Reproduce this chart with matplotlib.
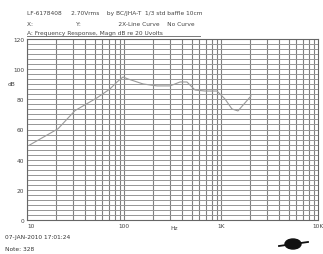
import numpy as np
import matplotlib
matplotlib.use('Agg')
import matplotlib.pyplot as plt
from matplotlib.patches import Ellipse

# curva de resposta
freq = [10.5, 20.9, 31.2, 52.7, 71.7, 84.7, 97.7, 110, 157, 219, 298, 378,
        446, 539, 684, 909, 1100, 1298, 1496, 1726, 2037]
magn = [49.5, 60.5, 72.5, 81.0, 86.9, 91.5, 94.8, 93.5, 90.2, 88.9, 88.9, 91.5,
        91.5, 86.2, 85.5, 85.5, 80.2, 73.6, 72.3, 76.9, 82.2]

ytick_vals = [0, 20, 40, 60, 80, 100, 120]
xtick_vals = [10, 100, 1000, 10000]
xtick_labels = ['10', '100', '1K', '10K']

header1 = 'LF-6178408     2.70Vrms    by BC/JHA-T  1/3 std baffle 10cm'
header2 = 'X:                       Y:                    2X-Line Curve    No Curve'
header3 = 'A: Frequency Response, Magn dB re 20 Uvolts'
date_txt = '07-JAN-2010 17:01:24'
note_txt = 'Note: 328'

fs = 4.2
W, H = 323, 255
fig = plt.figure(figsize=(W / 100, H / 100), dpi=100)
ax = fig.add_axes([27 / W, 1 - 221 / H, (318 - 27) / W, (221 - 40) / H])

ax.set_xscale('log')
ax.set_xlim(10, 10000)
ax.set_ylim(0, 120)

# grade
for dec in [10, 100, 1000]:
    for k in range(1, 10):
        ax.axvline(dec * k, color='#808080', lw=0.8, zorder=1)
for v in np.arange(0, 120.01, 20 / 6):
    ax.axhline(v, color='#959595', lw=0.7, zorder=1)

ax.plot(freq, magn, color='#9a9a9a', lw=0.8, zorder=3)

ax.set_yticks(ytick_vals)
ax.set_yticklabels([str(v) for v in ytick_vals])
ax.set_xticks(xtick_vals)
ax.set_xticklabels(xtick_labels)
ax.minorticks_off()
ax.tick_params(length=0, labelsize=fs, colors='#444444', pad=2)
ax.get_xticklabels()[0].set_ha('left')
for sp in ax.spines.values():
    sp.set_color('#666666')
    sp.set_linewidth(0.8)

fig.text(12 / W, 1 - 85 / H, 'dB', fontsize=fs, color='#444444', va='center', ha='center')
fig.text(174 / W, 1 - 228 / H, 'Hz', fontsize=fs, color='#444444', va='center', ha='center')

fig.text(27 / W, 1 - 14 / H, header1, fontsize=fs, color='#444444', va='center')
fig.text(27 / W, 1 - 24 / H, header2, fontsize=fs, color='#444444', va='center')
fig.text(27 / W, 1 - 34 / H, header3, fontsize=fs, color='#444444', va='center')
fig.lines.append(plt.Line2D([27 / W, 200 / W], [1 - 37 / H, 1 - 37 / H],
                            transform=fig.transFigure, color='#777777', lw=0.7))
fig.text(5 / W, 1 - 238 / H, date_txt, fontsize=fs, color='#333333', va='center')
fig.text(5 / W, 1 - 250 / H, note_txt, fontsize=fs, color='#333333', va='center')

# logo
fig.patches.append(Ellipse((293 / W, 1 - 245 / H), 16 / W, 10 / H, transform=fig.transFigure,
                           color='#111111'))
fig.lines.append(plt.Line2D([279 / W, 308 / W], [1 - 247 / H, 1 - 243 / H],
                            transform=fig.transFigure, color='#111111', lw=1.3))

fig.savefig('out.png', dpi=100)
